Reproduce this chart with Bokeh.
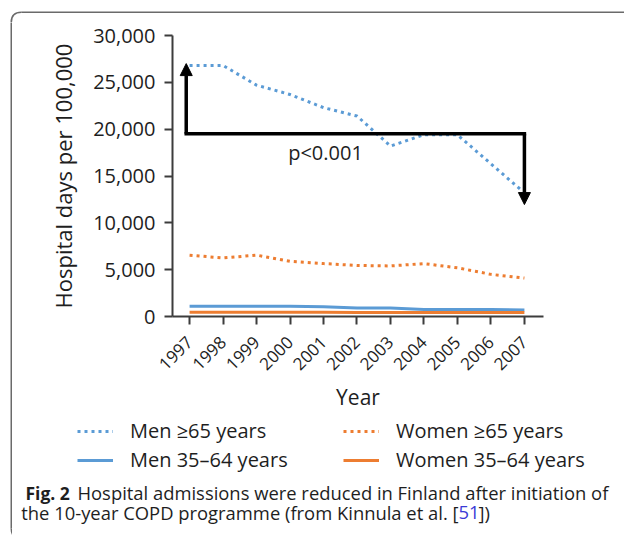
from bokeh.plotting import figure
from bokeh.layouts import column, row
from bokeh.models import (Range1d, FixedTicker, NumeralTickFormatter, Legend, LegendItem,
                          Label, Arrow, NormalHead)
from bokeh.embed import file_html
from bokeh.resources import INLINE

# ---------------- data ----------------
years = [1997, 1998, 1999, 2000, 2001, 2002, 2003, 2004, 2005, 2006, 2007]
men_65 = [26800, 26800, 24700, 23700, 22300, 21400, 18200, 19400, 19400, 16300, 13200]
women_65 = [6550, 6250, 6550, 5900, 5650, 5450, 5400, 5650, 5200, 4500, 4100]
men_35_64 = [1100, 1100, 1100, 1100, 1050, 900, 900, 750, 750, 750, 700]
women_35_64 = [450, 450, 450, 450, 450, 440, 440, 430, 430, 430, 420]
y_ticks = [0, 5000, 10000, 15000, 20000, 25000, 30000]
series_names = ["Men \u226565 years", "Men 35\u201364 years",
                "Women \u226565 years", "Women 35\u201364 years"]
p_text = "p<0.001"
bracket_years = [1996.9, 2007.0]
bracket_level = [19500, 19500]
bracket_tips = [27000, 11950]
p_pos = (2001.06, 17500)
caption_bold = "Fig. 2"
caption_line1 = "Hospital admissions were reduced in Finland after initiation of"
caption_line2 = "the 10-year COPD programme (from Kinnula et al. ["
caption_ref = "51"
caption_end = "])"

BLUE = "#5b9bd5"
ORANGE = "#ed7d31"
AXIS = "#3c3c3c"
TXT = "#1e1e1e"
FRAME = "#6a6a6a"
FONT = "Open Sans"

TOTAL_W, TOTAL_H = 624, 537
TOP_H = 22          # strip holding the top edge of the rounded frame
LEFT_W = 12         # strip holding the left edge of the rounded frame
P1_H = 394
P2_H = TOTAL_H - TOP_H - P1_H
INNER_W = TOTAL_W - LEFT_W


def blank(w, h):
    f = figure(width=w, height=h, output_backend="svg", toolbar_location=None,
               x_range=Range1d(0, w), y_range=Range1d(h, 0),
               x_axis_type=None, y_axis_type=None, min_border=0)
    f.outline_line_color = None
    f.background_fill_color = "white"
    f.border_fill_color = "white"
    return f


# ---------- rounded frame strips ----------
top = blank(TOTAL_W, TOP_H)
top.line([20.8, TOTAL_W + 5], [11.8, 11.8], line_color=FRAME, line_width=1.6)
top.quadratic(x0=10.8, y0=21.8, x1=20.8, y1=11.8, cx=10.8, cy=11.8,
              line_color=FRAME, line_width=1.6)
top.line([10.8, 10.8], [21.8, TOP_H + 2], line_color=FRAME, line_width=1.6)

LH = TOTAL_H - TOP_H
left = blank(LEFT_W, LH)
left.line([10.8, 10.8], [-2, LH - 9], line_color=FRAME, line_width=1.6)
left.quadratic(x0=10.8, y0=LH - 9, x1=20.8, y1=LH + 1, cx=10.8, cy=LH + 1,
               line_color=FRAME, line_width=1.6)

# ---------- main chart ----------
FL = 172 - LEFT_W
FT = 35 - TOP_H
FR = INNER_W - (543 - LEFT_W)
FB = P1_H - (316 - TOP_H)

p = figure(width=INNER_W, height=P1_H, output_backend="svg", toolbar_location=None,
           x_range=Range1d(1996.49, 2007.57), y_range=Range1d(0, 30000),
           min_border_left=FL, min_border_right=FR, min_border_top=FT,
           min_border_bottom=FB)
p.outline_line_color = None
p.xgrid.visible = False
p.ygrid.visible = False
p.background_fill_color = "white"
p.border_fill_color = "white"

for ax in (p.xaxis[0], p.yaxis[0]):
    ax.axis_line_color = AXIS
    ax.axis_line_width = 2
    ax.major_tick_line_color = AXIS
    ax.major_tick_line_width = 2
    ax.major_tick_out = 8
    ax.major_tick_in = 0
    ax.minor_tick_line_color = None
    ax.major_label_text_color = TXT
    ax.major_label_text_font = FONT
    ax.axis_label_text_font = FONT
    ax.axis_label_text_font_style = "normal"
    ax.axis_label_text_color = TXT

p.xaxis.ticker = FixedTicker(ticks=years)
p.xaxis.major_label_orientation = 0.785398
p.xaxis.major_label_text_font_size = "17px"
p.xaxis.axis_label = "Year"
p.xaxis.axis_label_text_font_size = "21px"
p.xaxis.major_label_standoff = 15
p.xaxis.axis_label_standoff = 5

p.yaxis.ticker = FixedTicker(ticks=y_ticks)
p.yaxis.formatter = NumeralTickFormatter(format="0,0")
p.yaxis.major_label_text_font_size = "20px"
p.yaxis.axis_label = "Hospital days per 100,000"
p.yaxis.axis_label_text_font_size = "22px"
p.yaxis.major_label_standoff = 9
p.yaxis.axis_label_standoff = 12

styles = [dict(line_color=BLUE, line_width=3, line_dash="3 4"),
          dict(line_color=BLUE, line_width=3),
          dict(line_color=ORANGE, line_width=3, line_dash="3 4"),
          dict(line_color=ORANGE, line_width=3)]
series = [men_65, men_35_64, women_65, women_35_64]
for vals, st in zip(series, styles):
    p.line(years, vals, **st)

# significance bracket
p.line(bracket_years, bracket_level, line_color="black", line_width=3.5, line_cap="square")
for bx, tip in zip(bracket_years, bracket_tips):
    p.add_layout(Arrow(end=NormalHead(size=12, fill_color="black", line_color="black"),
                       x_start=bx, y_start=bracket_level[0], x_end=bx, y_end=tip,
                       line_color="black", line_width=3.5))
p.add_layout(Label(x=p_pos[0], y=p_pos[1], text=p_text, text_align="center",
                   text_baseline="middle", text_font=FONT, text_font_size="20px",
                   text_color=TXT))

# ---------- legend + caption ----------
q = blank(INNER_W, P2_H)
OX, OY = LEFT_W, TOP_H + P1_H      # page offset of this panel

# legend proxies: same series, drawn far outside this panel's visible area
proxies = [q.line(years, vals, **st) for vals, st in zip(series, styles)]
items = [LegendItem(label=n, renderers=[r]) for n, r in zip(series_names, proxies)]
ROW_H, SP = 26, 2
leg_top = (432 - OY) - ROW_H / 2
leg_bottom = leg_top + 2 * ROW_H + SP
legend = Legend(items=items, location=(77 - OX, P2_H - leg_bottom),
                orientation="vertical", ncols=2,
                glyph_width=36, glyph_height=ROW_H, label_standoff=17, label_width=211,
                label_height=ROW_H, spacing=SP, padding=0, margin=0,
                border_line_color=None, background_fill_alpha=0,
                label_text_font=FONT, label_text_font_size="20px", label_text_color=TXT)
q.add_layout(legend)

cap = dict(text_font=FONT, text_font_size="18.4px", text_baseline="middle", text_color=TXT)
q.add_layout(Label(x=25 - OX, y=492 - OY, text=caption_bold, text_font_style="bold",
                   **dict(cap, text_font_size="17.5px")))
q.add_layout(Label(x=77 - OX, y=492 - OY, text=caption_line1, **cap))
q.add_layout(Label(x=458 - OX, y=512 - OY, text=caption_line2, text_align="right", **cap))
q.add_layout(Label(x=458 - OX, y=512 - OY, text=caption_ref, **dict(cap, text_color="#3a3ad6")))
q.add_layout(Label(x=478 - OX, y=512 - OY, text=caption_end, **cap))

layout = column(top, row(left, column(p, row(q, spacing=0), spacing=0), spacing=0), spacing=0)
open("out.html", "w").write(file_html(layout, INLINE))
